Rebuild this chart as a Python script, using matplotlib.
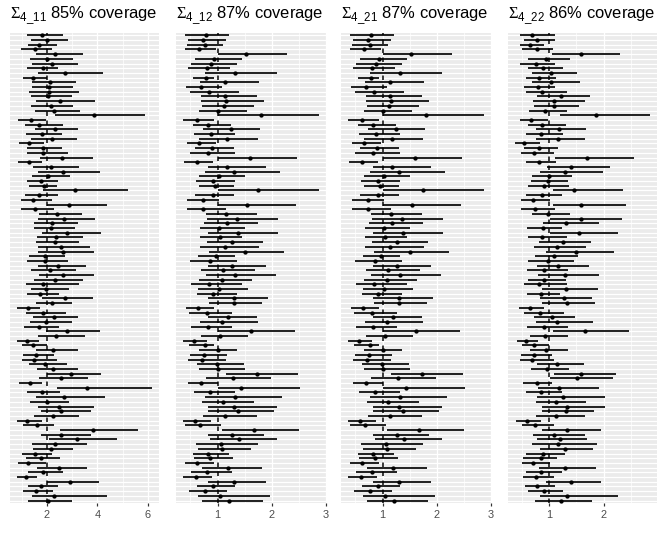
import numpy as np
import matplotlib.pyplot as plt

plt.rcParams['font.family'] = ['Liberation Sans', 'DejaVu Sans']
plt.rcParams['mathtext.fontset'] = 'custom'
plt.rcParams['mathtext.rm'] = 'Liberation Serif'
plt.rcParams['mathtext.sf'] = 'Liberation Sans'

# interval data (lower, estimate, upper), top row first
lo11 = [1.19, 1.37, 1.23, 0.97, 1.55, 1.33, 1.42, 1.19, 1.63, 1.03,
        1.39, 1.39, 1.29, 1.35, 1.56, 1.37, 1.52, 2.30, 0.86, 1.13,
        1.52, 1.17, 1.37, 0.89, 1.22, 1.22, 1.72, 0.86, 1.43, 1.66,
        1.42, 1.19, 1.30, 1.83, 1.13, 0.97, 1.99, 0.96, 1.70, 1.66,
        1.48, 1.50, 1.79, 1.59, 1.55, 1.66, 1.66, 1.29, 1.22, 1.66,
        1.35, 1.70, 1.48, 1.17, 1.35, 1.19, 1.81, 1.56, 0.82, 1.15,
        1.43, 1.33, 1.10, 1.95, 1.63, 0.80, 1.02, 1.56, 1.06, 1.02,
        1.29, 1.62, 1.99, 1.70, 0.90, 2.38, 1.22, 1.56, 1.33, 1.66,
        1.75, 1.48, 0.82, 1.03, 2.52, 1.75, 2.09, 1.39, 1.46, 1.02,
        1.15, 0.86, 1.62, 1.23, 0.81, 1.99, 1.23, 1.06, 1.39, 1.26]
est11 = [1.80, 2.01, 1.70, 1.51, 2.30, 1.99, 2.21, 1.83, 2.71, 1.46,
         2.13, 2.09, 2.07, 2.05, 2.50, 2.16, 2.29, 3.88, 1.35, 1.68,
         2.33, 1.80, 2.19, 1.27, 1.83, 1.83, 2.61, 1.29, 2.15, 2.62,
         2.03, 1.75, 1.87, 3.12, 1.70, 1.46, 2.89, 1.51, 2.41, 2.69,
         2.21, 2.16, 2.79, 2.34, 2.32, 2.57, 2.63, 1.93, 1.91, 2.42,
         2.13, 2.63, 2.33, 1.85, 1.97, 1.74, 2.73, 2.21, 1.23, 1.84,
         2.26, 1.97, 1.70, 2.78, 2.36, 1.22, 1.46, 2.25, 1.56, 1.50,
         1.91, 2.25, 2.95, 2.54, 1.31, 3.59, 1.80, 2.67, 2.00, 2.48,
         2.56, 2.22, 1.22, 1.59, 3.81, 2.54, 3.20, 2.32, 2.17, 1.51,
         1.76, 1.26, 2.48, 1.84, 1.17, 2.91, 1.76, 1.56, 2.28, 2.05]
hi11 = [2.65, 2.83, 2.38, 2.21, 3.43, 3.04, 3.22, 2.45, 4.24, 2.01,
        3.15, 3.02, 3.26, 2.98, 3.89, 3.02, 3.32, 5.88, 1.96, 2.63,
        3.23, 2.58, 3.18, 1.88, 2.60, 2.85, 3.84, 1.79, 3.27, 4.10,
        2.91, 2.45, 2.38, 5.23, 2.42, 2.19, 4.38, 2.29, 3.39, 3.90,
        3.22, 3.11, 4.14, 3.42, 3.28, 3.71, 3.88, 2.73, 2.82, 3.53,
        3.15, 3.85, 3.42, 3.27, 2.86, 2.48, 3.81, 3.01, 1.72, 2.74,
        3.23, 3.01, 2.49, 4.10, 3.51, 1.70, 2.01, 3.22, 2.28, 2.41,
        2.78, 3.22, 4.13, 3.61, 1.79, 6.18, 2.52, 4.31, 2.89, 3.88,
        3.73, 3.28, 1.79, 2.29, 5.60, 3.75, 4.79, 3.57, 3.02, 2.19,
        2.53, 1.96, 3.60, 2.65, 1.62, 4.05, 2.45, 2.25, 4.38, 3.01]

lo12 = [0.40, 0.45, 0.43, 0.40, 1.00, 0.59, 0.51, 0.46, 0.77, 0.54,
        0.68, 0.42, 0.49, 0.70, 0.70, 0.71, 0.65, 1.00, 0.37, 0.54,
        0.74, 0.56, 0.65, 0.43, 0.59, 0.49, 1.00, 0.39, 0.83, 0.77,
        0.66, 0.60, 0.65, 1.00, 0.59, 0.44, 1.00, 0.44, 0.78, 0.81,
        0.75, 0.67, 0.83, 0.68, 0.80, 0.68, 0.85, 0.64, 0.49, 0.83,
        0.70, 0.79, 0.66, 0.51, 0.64, 0.62, 0.83, 0.85, 0.42, 0.48,
        0.83, 0.68, 0.52, 1.00, 0.70, 0.37, 0.48, 0.65, 0.49, 0.46,
        0.62, 0.65, 1.16, 0.79, 0.46, 1.00, 0.56, 0.77, 0.71, 0.83,
        0.83, 0.74, 0.36, 0.40, 1.08, 0.83, 0.86, 0.60, 0.64, 0.54,
        0.56, 0.40, 0.71, 0.51, 0.37, 0.83, 0.63, 0.48, 0.64, 0.72]
est12 = [0.78, 0.74, 0.76, 0.66, 1.52, 0.93, 0.88, 0.81, 1.33, 0.78,
         1.13, 0.69, 0.85, 1.14, 1.16, 1.12, 1.01, 1.81, 0.62, 0.82,
         1.25, 0.88, 1.17, 0.66, 0.89, 0.83, 1.60, 0.62, 1.18, 1.31,
         1.02, 0.91, 0.96, 1.74, 0.91, 0.73, 1.54, 0.74, 1.15, 1.36,
         1.17, 1.02, 1.38, 1.05, 1.27, 1.14, 1.51, 0.98, 0.87, 1.26,
         1.10, 1.33, 1.09, 0.85, 1.02, 0.92, 1.31, 1.31, 0.64, 0.80,
         1.19, 1.08, 0.83, 1.61, 1.04, 0.57, 0.77, 1.00, 0.75, 0.72,
         0.99, 1.00, 1.73, 1.28, 0.70, 1.44, 0.87, 1.33, 1.10, 1.31,
         1.37, 1.13, 0.59, 0.68, 1.68, 1.26, 1.40, 1.06, 1.08, 0.82,
         0.86, 0.62, 1.19, 0.80, 0.60, 1.31, 0.91, 0.77, 1.05, 1.22]
hi12 = [1.22, 1.15, 1.10, 0.98, 2.28, 1.45, 1.35, 1.23, 2.10, 0.93,
        1.76, 1.08, 1.39, 1.72, 1.86, 1.67, 1.54, 2.87, 0.93, 1.25,
        1.78, 1.33, 1.74, 0.98, 1.30, 1.33, 2.47, 0.91, 1.90, 2.15,
        1.51, 1.33, 1.30, 2.87, 1.31, 1.02, 2.44, 1.16, 1.73, 2.11,
        1.74, 1.51, 2.12, 1.45, 1.84, 1.76, 2.23, 1.33, 1.36, 1.90,
        1.70, 2.07, 1.64, 1.45, 1.57, 1.36, 1.93, 1.82, 0.93, 1.27,
        1.73, 1.75, 1.27, 2.42, 1.57, 0.80, 0.93, 1.36, 1.17, 1.16,
        1.48, 1.50, 2.48, 1.99, 1.00, 2.52, 1.33, 2.18, 1.67, 2.09,
        2.05, 1.72, 0.88, 1.06, 2.51, 1.86, 2.09, 1.75, 1.62, 1.22,
        1.28, 0.94, 1.82, 1.27, 0.90, 1.90, 1.33, 1.17, 1.96, 1.84]

# sigma is symmetric, so the 21 panel repeats the 12 panel
lo21, est21, hi21 = lo12, est12, hi12

lo22 = [0.46, 0.53, 0.46, 0.50, 1.05, 0.62, 0.46, 0.61, 0.68, 0.58,
        0.68, 0.54, 0.57, 0.78, 0.71, 0.72, 0.63, 1.19, 0.46, 0.61,
        0.75, 0.57, 0.75, 0.37, 0.54, 0.48, 1.11, 0.58, 0.96, 0.84,
        0.68, 0.66, 0.61, 1.07, 0.58, 0.48, 1.07, 0.48, 0.68, 1.01,
        0.88, 0.60, 1.01, 0.61, 0.82, 0.73, 0.94, 0.74, 0.62, 0.78,
        0.59, 0.80, 0.61, 0.53, 0.87, 0.59, 0.84, 0.87, 0.44, 0.53,
        0.72, 0.75, 0.59, 1.07, 0.65, 0.41, 0.51, 0.64, 0.49, 0.46,
        0.78, 0.66, 1.08, 1.02, 0.52, 0.80, 0.58, 0.77, 0.75, 0.87,
        0.87, 0.76, 0.40, 0.51, 0.87, 0.71, 0.78, 0.69, 0.84, 0.58,
        0.52, 0.50, 0.82, 0.58, 0.52, 0.94, 0.55, 0.61, 0.84, 0.74]
est22 = [0.69, 0.78, 0.64, 0.77, 1.58, 0.94, 0.75, 0.88, 1.04, 0.82,
         1.04, 0.79, 0.86, 1.21, 1.08, 1.08, 0.93, 1.85, 0.67, 0.87,
         1.18, 0.85, 1.16, 0.53, 0.82, 0.72, 1.70, 0.82, 1.40, 1.29,
         0.99, 0.97, 0.91, 1.46, 0.86, 0.71, 1.58, 0.74, 0.98, 1.58,
         1.30, 0.88, 1.54, 0.87, 1.25, 1.14, 1.49, 1.08, 0.97, 1.16,
         0.91, 1.29, 0.90, 0.81, 1.30, 0.85, 1.27, 1.33, 0.65, 0.83,
         1.05, 1.15, 0.90, 1.66, 0.93, 0.58, 0.73, 0.94, 0.72, 0.68,
         1.15, 0.96, 1.59, 1.51, 0.77, 1.18, 0.85, 1.26, 1.13, 1.33,
         1.30, 1.13, 0.59, 0.74, 1.33, 1.08, 1.19, 1.16, 1.29, 0.88,
         0.85, 0.71, 1.29, 0.85, 0.76, 1.40, 0.78, 0.90, 1.33, 1.22]
hi22 = [1.11, 1.11, 0.90, 1.07, 2.30, 1.38, 1.10, 1.25, 1.51, 1.13,
        1.57, 1.10, 1.33, 1.74, 1.66, 1.55, 1.33, 2.85, 0.97, 1.30,
        1.68, 1.26, 1.66, 0.83, 1.16, 1.08, 2.55, 1.13, 2.12, 1.99,
        1.42, 1.34, 1.37, 2.36, 1.24, 1.02, 2.41, 1.10, 1.38, 2.33,
        1.91, 1.24, 2.26, 1.33, 1.77, 1.68, 2.18, 1.52, 1.46, 1.72,
        1.34, 1.91, 1.30, 1.33, 1.90, 1.19, 1.79, 1.83, 0.90, 1.27,
        1.47, 1.80, 1.35, 2.46, 1.35, 0.80, 0.99, 1.34, 1.05, 1.08,
        1.63, 1.37, 2.22, 2.16, 1.05, 1.92, 1.24, 2.03, 1.68, 2.03,
        1.82, 1.66, 0.85, 1.08, 1.94, 1.65, 1.69, 1.87, 1.81, 1.29,
        1.14, 1.02, 1.86, 1.23, 1.08, 1.95, 1.10, 1.26, 2.26, 1.79]

names = ['11', '12', '21', '22']
coverage = [85, 87, 87, 86]
true_vals = [2, 1, 1, 1]
major_ticks = [[2, 4, 6], [1, 2, 3], [1, 2, 3], [1, 2]]
minor_ticks = [[1, 3, 5], [0.5, 1.5, 2.5], [0.5, 1.5, 2.5], [0.5, 1.5, 2.5]]
data = [(lo11, est11, hi11), (lo12, est12, hi12),
        (lo21, est21, hi21), (lo22, est22, hi22)]

W, H = 664, 543
fig = plt.figure(figsize=(W / 72, H / 72), dpi=72)
fig.patch.set_facecolor('white')

# panel placement in pixels
panel_x = [(10, 159), (176, 326), (341, 491), (508, 657)]
top, bottom = 32.5, 503.4

for i in range(4):
    lo, est, hi = [np.array(v) for v in data[i]]
    n = len(est)
    rows = np.arange(n)
    l, r = panel_x[i]
    ax = fig.add_axes([l / W, 1 - bottom / H, (r - l) / W, (bottom - top) / H])
    ax.set_facecolor('#EBEBEB')

    ax.axvline(true_vals[i], color='black', lw=1.5, ls=(0, (3, 3)), zorder=2)
    ax.hlines(rows, lo, hi, color='black', lw=1.7, zorder=3)
    ax.plot(est, rows, 'o', color='black', ms=4.3, mec='none', zorder=4)

    span = hi.max() - lo.min()
    ax.set_xlim(lo.min() - 0.05 * span, hi.max() + 0.05 * span)
    ax.set_ylim(n - 1 + 0.6, -0.6)

    ax.set_xticks(major_ticks[i])
    ax.set_xticks(minor_ticks[i], minor=True)
    ax.set_yticks(rows)
    ax.tick_params(axis='y', length=0, labelleft=False)
    ax.tick_params(axis='x', which='major', length=3.4, width=1.2,
                   color='#333333', labelsize=11, labelcolor='#4D4D4D', pad=2.7)
    ax.tick_params(axis='x', which='minor', length=0)
    ax.grid(True, which='major', color='white', lw=1.3)
    ax.grid(True, which='minor', axis='x', color='white', lw=0.67)
    ax.set_axisbelow(True)
    for s in ax.spines.values():
        s.set_visible(False)

    title = r'$\Sigma_{\mathsf{4\_' + names[i] + r'}}$' + ' %d%% coverage' % coverage[i]
    ax.set_title(title, loc='left', fontsize=16.5, pad=13)

fig.savefig('out.png', dpi=72)
